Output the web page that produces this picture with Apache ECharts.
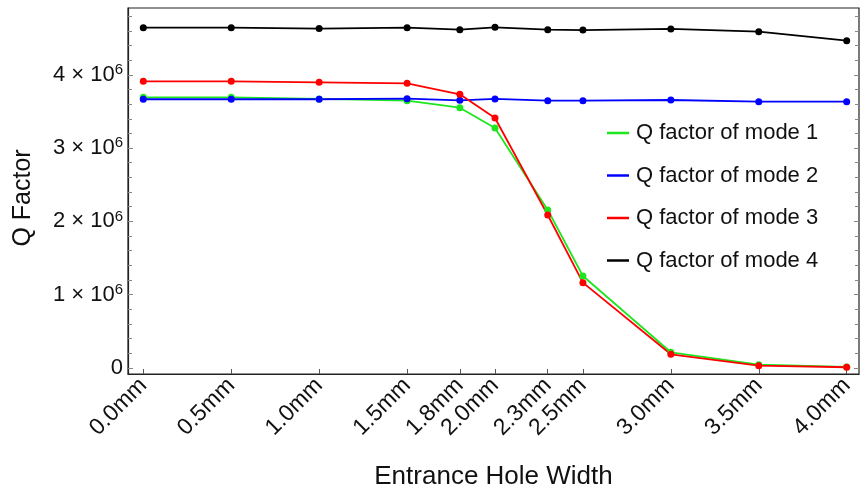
<!DOCTYPE html>
<html>
<head>
<meta charset="utf-8">
<script src="https://cdn.jsdelivr.net/npm/echarts@6/dist/echarts.min.js"></script>
<style>
  html, body { margin: 0; padding: 0; background: #fff; }
  #chart { width: 860px; height: 490px; }
</style>
</head>
<body>
<div id="chart"></div>
<script>
// entrance hole width (mm)
const widths = [0.0, 0.5, 1.0, 1.5, 1.8, 2.0, 2.3, 2.5, 3.0, 3.5, 4.0];
// Q factors
const mode1 = [3693000, 3693000, 3670000, 3647000, 3551000, 3274000, 2156000, 1255000, 214000, 45000, 15000];
const mode2 = [3666000, 3666000, 3666000, 3674000, 3652000, 3670000, 3647000, 3647000, 3656000, 3633000, 3633000];
const mode3 = [3911000, 3911000, 3897000, 3884000, 3734000, 3410000, 2087000, 1164000, 187000, 32000, 10000];
const mode4 = [4643000, 4643000, 4630000, 4643000, 4615000, 4647000, 4615000, 4610000, 4625000, 4588000, 4465000];
const seriesNames = ['Q factor of mode 1', 'Q factor of mode 2', 'Q factor of mode 3', 'Q factor of mode 4'];
const colors = ['#1ee61e', '#0000ff', '#ff0000', '#000000'];
const yMajor = [0, 1e6, 2e6, 3e6, 4e6];
const yMinor = [];
for (let i = 1; i < 25; i++) if (i % 5 !== 0) yMinor.push(i * 2e5);

const font = 'Liberation Sans, Arial, sans-serif';
const yMin = -82000, yMax = 4911000;

function pairs(vals) {
    return widths.map((w, i) => [w, vals[i]]);
}

function yAxisBase(pos, ticks, len, showLabel) {
    return {
        type: 'value',
        position: pos,
        min: yMin,
        max: yMax,
        splitLine: { show: false },
        axisLine: { show: false, onZero: false },
        axisTick: {
            show: true, inside: true, length: len, customValues: ticks,
            lineStyle: { color: '#888', width: 1 },
        },
        axisLabel: {
            show: showLabel,
            customValues: ticks,
            margin: 5,
            fontFamily: font,
            fontSize: 22,
            color: '#111',
            formatter: v => (v === 0 ? '0' : '{a|' + Math.round(v / 1e6) + ' × 10}{s|6}'),
            rich: {
                a: { fontFamily: font, fontSize: 22, color: '#111' },
                s: { fontFamily: font, fontSize: 15, color: '#111', padding: [0, 0, 10, 0] },
            },
        },
    };
}

const chart = echarts.init(document.getElementById('chart'));
const yLeft = yAxisBase('left', yMajor, 5, true);
yLeft.name = 'Q Factor';
yLeft.nameLocation = 'middle';
yLeft.nameGap = 92;
yLeft.nameTextStyle = { fontFamily: font, fontSize: 25, color: '#111', padding: [0, 14, 0, 0] };
yLeft.axisLine = { show: true, onZero: false, lineStyle: { color: '#222', width: 1.2 } };

chart.setOption({
    animation: false,
    backgroundColor: '#fff',
    grid: {
        left: 128, right: 1, top: 8, bottom: 116,
        outerBoundsMode: 'none',
        containLabel: false,
        show: true, borderColor: '#222', borderWidth: 1.2,
    },
    legend: {
        orient: 'vertical',
        left: 602,
        top: 117,
        itemWidth: 22,
        itemHeight: 2.5,
        itemGap: 20.5,
        icon: 'rect',
        textStyle: { fontFamily: font, fontSize: 22, lineHeight: 22, color: '#111', padding: [0, 0, 0, 2] },
        data: seriesNames,
    },
    xAxis: {
        type: 'value',
        min: -0.087,
        max: 4.07,
        name: 'Entrance Hole Width',
        nameLocation: 'middle',
        nameGap: 90,
        nameTextStyle: { fontFamily: font, fontSize: 26, color: '#111' },
        splitLine: { show: false },
        axisLine: { show: true, onZero: false, lineStyle: { color: '#222', width: 1.2 } },
        axisTick: {
            show: true, inside: true, length: 5, customValues: widths,
            lineStyle: { color: '#555', width: 1 },
        },
        axisLabel: {
            customValues: widths,
            rotate: 45,
            margin: 8,
            fontFamily: font,
            fontSize: 23,
            color: '#111',
            formatter: v => v.toFixed(1) + 'mm',
        },
    },
    yAxis: [
        yLeft,
        yAxisBase('left', yMinor, 4, false),
        yAxisBase('right', yMajor, 5, false),
        yAxisBase('right', yMinor, 4, false),
    ],
    series: [mode1, mode2, mode3, mode4].map((vals, i) => ({
        name: seriesNames[i],
        type: 'line',
        data: pairs(vals),
        symbol: 'circle',
        symbolSize: 7,
        lineStyle: { width: 1.8, color: colors[i] },
        itemStyle: { color: colors[i] },
    })),
});
</script>
</body>
</html>
